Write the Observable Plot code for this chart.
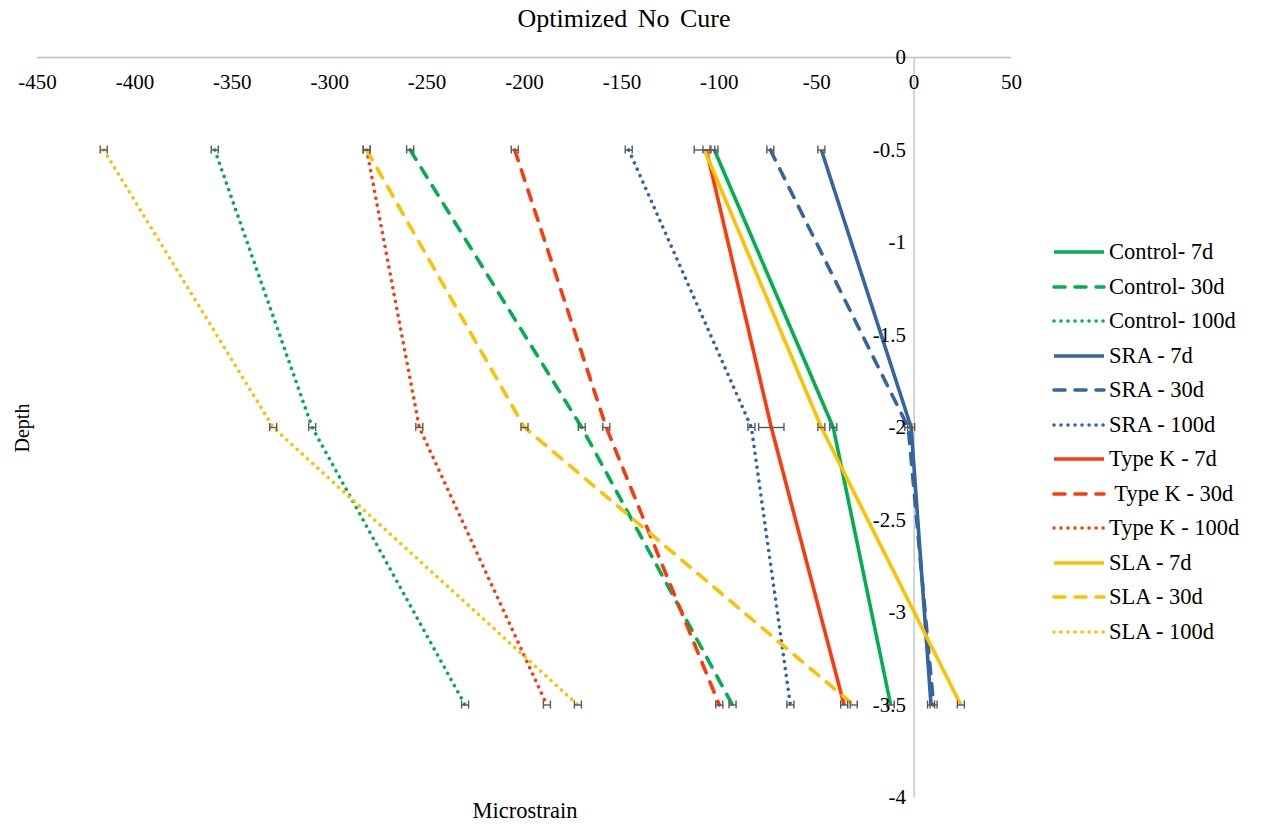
<!DOCTYPE html>
<html>
<head>
<meta charset="utf-8">
<script src="https://cdn.jsdelivr.net/npm/d3@7"></script>
<script src="https://cdn.jsdelivr.net/npm/@observablehq/plot@0.6"></script>
<style>
  body { margin: 0; background: #fff; }
  #wrap { position: relative; width: 1264px; height: 824px; font-family: "Liberation Serif", "Times New Roman", serif; }
  #chart { position: absolute; left: 0; top: 0; }
  .title { position: absolute; left: 0; width: 1248px; top: 4px; text-align: center; font-size: 26px; word-spacing: 4px; }
  .ylab { position: absolute; left: 22px; top: 428px; font-size: 20px; transform: translate(-50%, -50%) rotate(-90deg); }
  .xlab { position: absolute; left: 525px; top: 811px; font-size: 22.5px; transform: translate(-50%, -50%); }
  #legend { position: absolute; left: 1052px; top: 235px; }
  .row { height: 34.5px; display: flex; align-items: center; font-size: 22.5px; white-space: pre; }
  .row svg { margin-right: 3px; }
</style>
</head>
<body>
<div id="wrap">
  <div id="chart"></div>
  <div class="title">Optimized No Cure</div>
  <div class="ylab">Depth</div>
  <div class="xlab">Microstrain</div>
  <div id="legend"></div>
</div>
<script>
// ---- data ----
const depths = [-0.5, -2, -3.5];
const seriesNames = [
  "Control- 7d", "Control- 30d", "Control- 100d",
  "SRA - 7d", "SRA - 30d", "SRA - 100d",
  "Type K - 7d", " Type K - 30d", "Type K - 100d",
  "SLA - 7d", "SLA - 30d", "SLA - 100d"
];
const seriesColors = [
  "#00B050", "#00B050", "#00B050",
  "#3465A0", "#3465A0", "#3465A0",
  "#FF3A0A", "#FF3A0A", "#FF3A0A",
  "#FFC000", "#FFC000", "#FFC000"
];
const seriesStyles = ["solid", "dash", "dot", "solid", "dash", "dot", "solid", "dash", "dot", "solid", "dash", "dot"];
// microstrain values at depths -0.5, -2, -3.5
const controlValues7 = [-102.5, -41.5, -12];
const controlValues30 = [-258.7, -170.6, -93.2];
const controlValues100 = [-359, -309, -230.5];
const sraValues7 = [-47.6, -1.5, 8.7];
const sraValues30 = [-73.8, -3, 10];
const sraValues100 = [-146.5, -83.5, -63.5];
const typeKValues7 = [-106.6, -73.3, -35.9];
const typeKValues30 = [-205, -158, -100];
const typeKValues100 = [-281, -254, -188.5];
const slaValues7 = [-107.6, -47.6, 24];
const slaValues30 = [-281, -200, -31];
const slaValues100 = [-416, -329, -172.6];
const seriesValues = [
  controlValues7, controlValues30, controlValues100,
  sraValues7, sraValues30, sraValues100,
  typeKValues7, typeKValues30, typeKValues100,
  slaValues7, slaValues30, slaValues100
];
// error bar half-widths (microstrain)
const seriesErrors = [
  [1.8, 1.8, 1.8], [1.8, 1.8, 1.8], [1.8, 1.8, 1.8],
  [1.8, 1.8, 1.8], [1.8, 1.8, 1.8], [1.8, 1.8, 1.8],
  [1.8, 6.5, 1.8], [1.8, 1.8, 1.8], [1.8, 1.8, 1.8],
  [5.3, 1.8, 1.8], [1.8, 1.8, 1.8], [1.8, 1.8, 1.8]
];
const xTicks = [-450, -400, -350, -300, -250, -200, -150, -100, -50, 0, 50];
const yTicks = [0, -0.5, -1, -1.5, -2, -2.5, -3, -3.5, -4];

// ---- build ----
const dashFor = {solid: null, dash: "11,10", dot: "0.01,7"};
const rows = [];
seriesNames.forEach((name, i) => {
  depths.forEach((d, j) => rows.push({series: name, idx: i, depth: d, value: seriesValues[i][j], err: seriesErrors[i][j]}));
});
const capHalf = 0.022;
const axisColor = "#bfbfbf";
const errColor = "#595959";

const marks = [
  Plot.ruleY([0], {stroke: axisColor, strokeWidth: 1.3}),
  Plot.ruleX([0], {y1: 0, y2: -4, stroke: axisColor, strokeWidth: 1.3}),
];
seriesNames.forEach((name, i) => {
  const data = rows.filter(r => r.idx === i);
  marks.push(Plot.line(data, {
    x: "value", y: "depth", stroke: seriesColors[i], strokeWidth: 3.6,
    strokeDasharray: dashFor[seriesStyles[i]], strokeLinecap: seriesStyles[i] === "solid" ? "butt" : "round"
  }));
});
marks.push(
  Plot.link(rows, {x1: d => d.value - d.err, x2: d => d.value + d.err, y1: "depth", y2: "depth", stroke: errColor, strokeWidth: 1.4}),
  Plot.ruleX(rows, {x: d => d.value - d.err, y1: d => d.depth - capHalf, y2: d => d.depth + capHalf, stroke: errColor, strokeWidth: 1.4}),
  Plot.ruleX(rows, {x: d => d.value + d.err, y1: d => d.depth - capHalf, y2: d => d.depth + capHalf, stroke: errColor, strokeWidth: 1.4}),
  Plot.text(xTicks, {x: d => d, y: 0, text: d => String(d), dy: 25, fontSize: 21, fill: "#000"}),
  Plot.text(yTicks, {x: 0, y: d => d, text: d => String(d), dx: -8, textAnchor: "end", fontSize: 21, fill: "#000"})
);

const chart = Plot.plot({
  width: 1264, height: 824,
  marginLeft: 37, marginRight: 253, marginTop: 57, marginBottom: 27,
  x: {domain: [-450, 50], axis: null},
  y: {domain: [-4, 0], axis: null},
  style: {fontFamily: "'Liberation Serif', 'Times New Roman', serif", background: "#fff", overflow: "visible"},
  marks
});
document.getElementById("chart").appendChild(chart);

// legend
const legend = document.getElementById("legend");
seriesNames.forEach((name, i) => {
  const row = document.createElement("div");
  row.className = "row";
  const dash = dashFor[seriesStyles[i]];
  const cap = seriesStyles[i] === "solid" ? "butt" : "round";
  row.innerHTML = `<svg width="54" height="10"><line x1="2" y1="5" x2="52" y2="5" stroke="${seriesColors[i]}" stroke-width="3.6" stroke-linecap="${cap}" ${dash ? `stroke-dasharray="${dash}"` : ""}/></svg><span>${name}</span>`;
  legend.appendChild(row);
});
</script>
</body>
</html>
